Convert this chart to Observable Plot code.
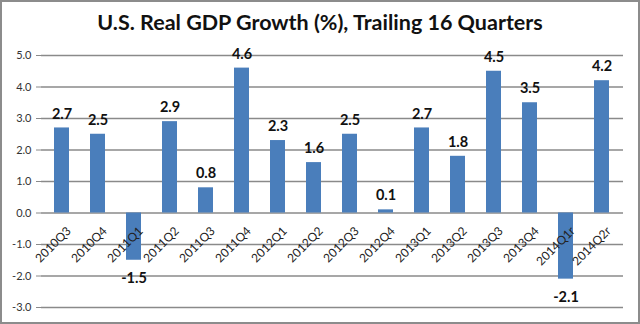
<!DOCTYPE html>
<html>
<head>
<meta charset="utf-8">
<script src="https://cdn.jsdelivr.net/npm/d3@7"></script>
<script src="https://cdn.jsdelivr.net/npm/@observablehq/plot@0.6"></script>
<style>
  body { margin: 0; background: #fff; }
  #wrap { position: relative; width: 640px; height: 324px; overflow: hidden; background: #fff; }
  #title { position: absolute; top: 9px; left: 0; width: 640px; text-align: center;
           font-family: Lato, "Open Sans", sans-serif; font-weight: 700; font-size: 21.5px; color: #111; }
  #border { position: absolute; left: 0; top: 0; width: 636px; height: 320px; border: 2px solid #8c8c8c; pointer-events: none; }
  #chart svg { display: block; }
</style>
</head>
<body>
<div id="wrap">
  <div id="chart"></div>
  <div id="title">U.S. Real GDP Growth (%), Trailing 16 Quarters</div>
  <div id="border"></div>
</div>
<script>
const quarters = ["2010Q3","2010Q4","2011Q1","2011Q2","2011Q3","2011Q4","2012Q1","2012Q2",
                  "2012Q3","2012Q4","2013Q1","2013Q2","2013Q3","2013Q4","2014Q1r","2014Q2r"];
const growth = [2.7, 2.5, -1.5, 2.9, 0.8, 4.6, 2.3, 1.6, 2.5, 0.1, 2.7, 1.8, 4.5, 3.5, -2.1, 4.2];
const yTicks = [-3, -2, -1, 0, 1, 2, 3, 4, 5];

const data = quarters.map((q, i) => ({q, v: growth[i]}));
const pos = data.filter(d => d.v >= 0);
const neg = data.filter(d => d.v < 0);
const fmt = d => d.toFixed(1);

const chart = Plot.plot({
  width: 640,
  height: 324,
  marginTop: 55,
  marginBottom: 17,
  marginLeft: 41,
  marginRight: 17,
  style: {fontFamily: "Lato, 'Open Sans', sans-serif", background: "#fff"},
  x: {domain: quarters, paddingInner: 0.57, paddingOuter: 0.285, axis: null},
  y: {domain: [-3, 5], axis: null},
  marks: [
    Plot.gridY(yTicks, {stroke: "#8a8a8a", strokeOpacity: 1, strokeWidth: 1.4}),
    Plot.axisY(yTicks, {tickFormat: fmt, tickSize: 5, tickPadding: 5, stroke: "#8a8a8a",
                        fontSize: 11, fill: "#333", label: null}),
    Plot.ruleX([0], {frameAnchor: "left", stroke: "#8a8a8a", strokeWidth: 1.4}),
    Plot.barY(data, {x: "q", y: "v", fill: "#4a7ebb"}),
    Plot.text(quarters, {x: d => d, y: 0, text: d => d, rotate: -45, textAnchor: "end",
                         dx: 7, dy: 16, fontSize: 12, fill: "#222"}),
    Plot.text(pos, {x: "q", y: "v", text: d => fmt(d.v), dy: -14, fontSize: 14.5,
                    fontWeight: "bold", fill: "#111"}),
    Plot.text(neg, {x: "q", y: "v", text: d => fmt(d.v), dy: 18, fontSize: 14.5,
                    fontWeight: "bold", fill: "#111"})
  ]
});
document.getElementById("chart").append(chart);
</script>
</body>
</html>
